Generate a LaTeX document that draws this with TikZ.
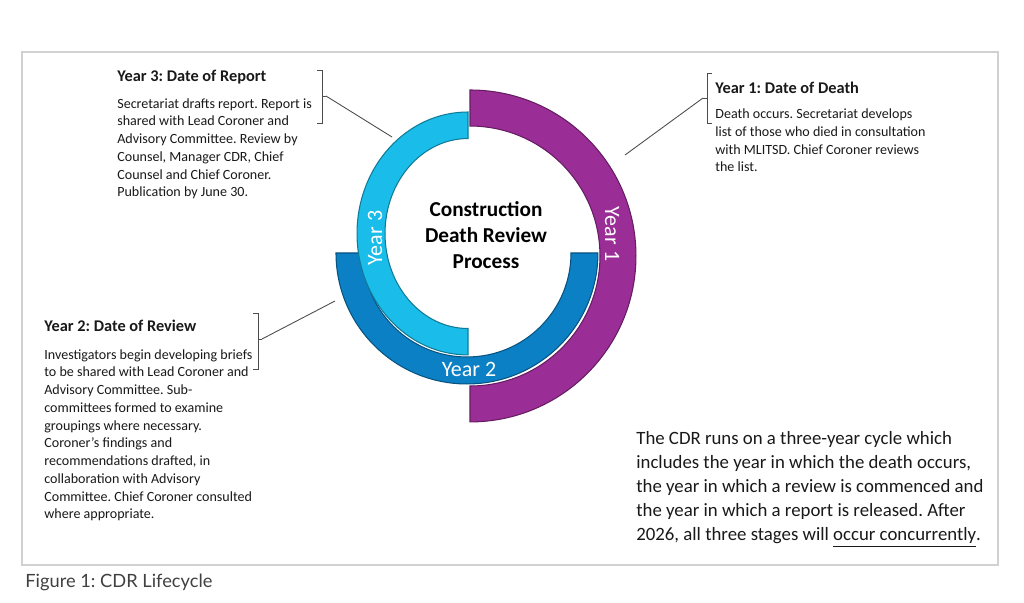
\documentclass[tikz,border=0pt]{standalone}
\usepackage{fontspec}
\setmainfont{Carlito}
\newfontfamily\capfont{Lato}
\usetikzlibrary{positioning,calc}

\definecolor{yearone}{HTML}{9B2D96}
\definecolor{yeartwo}{HTML}{0C80C4}
\definecolor{yearthree}{HTML}{1ABDE9}

\newcommand{\blurbhead}[1]{{\fontsize{9.3}{10.1}\selectfont\bfseries #1}}
\frenchspacing

\begin{document}
\begin{tikzpicture}[
x=0.02cm, y=0.02cm,
ring/.style={draw=#1!65!black, line width=0.6pt, fill=#1},
yearlbl/.style={text=white, font=\fontsize{12.5}{14}\selectfont, inner sep=0pt},
blurb/.style={anchor=north west, align=left, inner sep=0pt, text=black!90, font=\fontsize{8.0}{10.1}\selectfont},
brk/.style={draw=black!70, line width=0.5pt},
lead/.style={draw=black!70, line width=0.5pt}
]
\useasboundingbox (0,0) rectangle (1024,602);
\draw[black!18, line width=0.8pt] (22,37) rectangle (998,550);

% the three year rings
\path[ring=yearone] (470,512) arc[start angle=90, end angle=-90, radius=3.32cm]
  -- (470,216) arc[start angle=-90, end angle=90, radius=2.6cm] -- cycle;
\path[ring=yeartwo] (336,349) arc[start angle=180, end angle=360, radius=2.62cm]
  -- (571,349) arc[start angle=360, end angle=180, radius=2.08cm] -- cycle;
\path[ring=yearthree] (468,490) arc[start angle=90, end angle=270, x radius=2.22cm, y radius=2.43cm]
  -- (468,273.5) arc[start angle=270, end angle=90, x radius=1.66cm, y radius=1.9cm] -- cycle;

\node[yearlbl, rotate=-90] (lblone) at (612,368) {Year 1};
\node[yearlbl] (lbltwo) at (469,233) {Year 2};
\node[yearlbl, rotate=90] (lblthree) at (375,364) {Year 3};
\node[align=center, inner sep=0pt, font=\fontsize{12.1}{15}\selectfont\bfseries] (title) at (486,367)
  {Construction\\Death Review\\Process};

% the notes
\node[blurb] (three) at (117,532) {\blurbhead{Year 3: Date of Report}\\[5pt]
Secretariat drafts report. Report is\\
shared with Lead Coroner and\\
Advisory Committee. Review by\\
Counsel, Manager CDR, Chief\\
Counsel and Chief Coroner.\\
Publication by June 30.};

\node[blurb] (one) at (715,520) {\blurbhead{Year 1: Date of Death}\\[4pt]
Death occurs. Secretariat develops\\
list of those who died in consultation\\
with MLITSD. Chief Coroner reviews\\
the list.};

\node[blurb] (two) at (44,282) {\blurbhead{Year 2: Date of Review}\\[5.5pt]
Investigators begin developing briefs\\
to be shared with Lead Coroner and\\
Advisory Committee. Sub-\\
committees formed to examine\\
groupings where necessary.\\
Coroner’s findings and\\
recommendations drafted, in\\
collaboration with Advisory\\
Committee. Chief Coroner consulted\\
where appropriate.};

\node[anchor=north west, align=left, inner sep=0pt, text=black!90, font=\fontsize{10.7}{13.7}\selectfont] (cycle) at (636,171)
{The CDR runs on a three-year cycle which\\
includes the year in which the death occurs,\\
the year in which a review is commenced and\\
the year in which a report is released. After\\
2026, all three stages will \underline{occur concurrently}.};

\node[anchor=base west, inner sep=0pt, text=black!75, font=\capfont\fontsize{10.4}{11}\selectfont] (caption) at (25,15)
  {Figure 1: CDR Lifecycle};

% brackets and leader lines
\coordinate (threetick) at (326,506);
\coordinate (threehit) at (392,465);
\draw[brk] (317,532) -- (322,532) -- (322,479) -- (317,479) (322,506) -- (threetick);
\draw[lead] (threetick) -- (threehit);

\coordinate (onetick) at (703,504);
\coordinate (onehit) at (625,447);
\draw[brk] (712,529) -- (707,529) -- (707,479) -- (712,479) (707,504) -- (onetick);
\draw[lead] (onetick) -- (onehit);

\coordinate (twotick) at (262,263);
\coordinate (twohit) at (335,301);
\draw[brk] (253,289) -- (258,289) -- (258,233) -- (253,233) (258,263) -- (twotick);
\draw[lead] (twotick) -- (twohit);
\end{tikzpicture}
\end{document}
